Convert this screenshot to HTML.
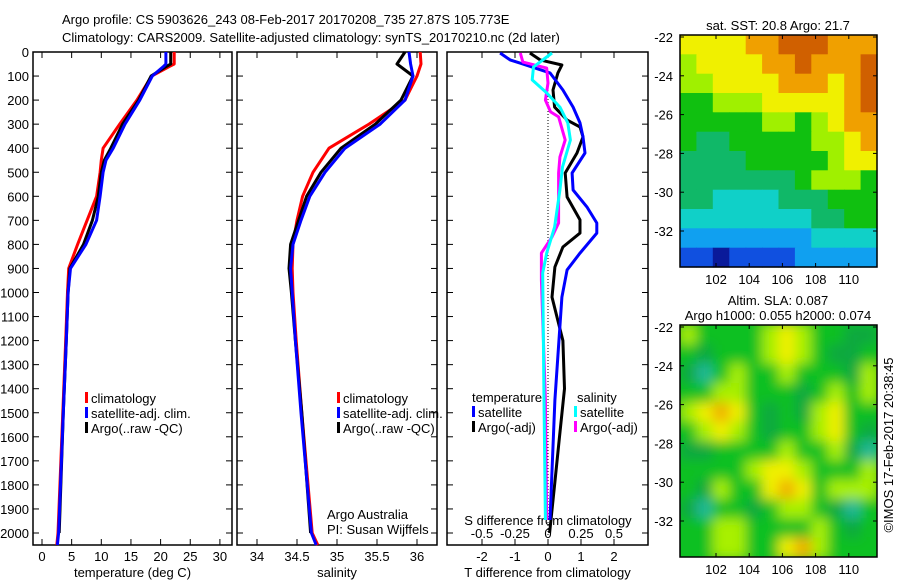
<!DOCTYPE html>
<html><head><meta charset="utf-8"><style>
body{margin:0;background:#fff}
svg text{font-family:"Liberation Sans",sans-serif;font-size:13px;fill:#000}
</style></head><body>
<svg id="chart" width="900" height="580" xmlns="http://www.w3.org/2000/svg">
<text x="62" y="24">Argo profile: CS 5903626_243 08-Feb-2017 20170208_735 27.87S 105.773E</text>
<text x="62" y="42">Climatology: CARS2009. Satellite-adjusted climatology: synTS_20170210.nc (2d later)</text>
<g id="g1"></g>
<g id="g2"></g>
<g id="g3"></g>
<g id="m1"></g>
<g id="m2"></g>
<text transform="translate(893,445) rotate(-90)" text-anchor="middle">©IMOS 17-Feb-2017 20:38:45</text>
<defs><filter id="bl" x="-5%" y="-5%" width="110%" height="110%"><feGaussianBlur stdDeviation="6"/></filter>
<clipPath id="c2"><rect x="680" y="325" width="197" height="232"/></clipPath></defs>
</svg>
<script>
// ---- data ----
const tDepths=[0,50,60,100,200,300,400,450,500,600,700,800,900,1000,1200,1500,2000,2050];
const climT=[22.3,22.3,21.5,18.5,16,13.1,10.3,10,9.8,9.2,7.6,6,4.5,4.3,4,3.5,2.7,2.5];
const satT=[20.9,20.9,20.5,18.6,16.5,14,12,10.8,10.3,9.8,9.2,7.4,4.8,4.4,4.1,3.6,2.8,2.6];
const argoT=[21.7,21.7,21,18.4,16.3,13.6,11.6,10.5,10,9.5,8.5,7,4.7,4.4,4.1,3.6,2.9];
const sDepths=[0,50,100,200,300,400,500,600,700,800,900,1000,1200,1500,2000,2050];
const climS=[36.04,36.05,36.0,35.85,35.4,34.9,34.7,34.57,34.5,34.45,34.44,34.45,34.49,34.56,34.69,34.76];
const satS=[35.9,35.92,35.95,35.85,35.54,35.1,34.85,34.66,34.55,34.45,34.42,34.44,34.48,34.55,34.68,34.74];
const argoS=[35.85,35.75,35.95,35.8,35.48,35.05,34.8,34.62,34.52,34.42,34.4,34.43,34.48,34.56,34.67];
const dTsatDepth=[4,33,46,87,158,229,295,353,420,503,574,644,711,753,836,906,1019,1447,1946];
const dTsat=[-1.45,-1.15,-0.85,0.06,0.45,0.76,0.97,1.06,1.12,0.73,0.76,1.18,1.48,1.48,0.97,0.58,0.42,0.21,0.06];
const dTargoDepth=[4,33,54,87,158,229,283,312,353,420,503,603,698,753,811,894,1019,1200,1400,1600,1800,2000];
const dTargo=[-0.55,-0.24,0.42,0.3,0.15,0.2,0.58,0.97,1.06,0.88,0.52,0.58,0.97,0.97,0.45,0.21,0.12,0.45,0.5,0.35,0.2,0.05];
const dSargoDepth=[4,42,67,129,200,249,270,366,437,503,711,769,836,948,1447,1946];
const dSargo=[-0.21,-0.19,-0.01,0,-0.02,0.02,0.08,0.13,0.09,0.08,0.08,0.03,-0.05,-0.05,-0.02,-0.01];
const dSsatDepth=[4,62,116,170,229,295,366,478,574,728,836,919,1447,1946];
const dSsat=[0.03,-0.11,-0.12,-0.01,0.09,0.15,0.17,0.11,0.09,0.05,-0.01,-0.04,-0.03,-0.02];
const depthTicks=[0,100,200,300,400,500,600,700,800,900,1000,1100,1200,1300,1400,1500,1600,1700,1800,1900,2000];
const tTicks=[0,5,10,15,20,25,30];
const sTicks=[34,34.5,35,35.5,36];
const dTTicks=[-2,-1,0,1,2];
const dSTicks=[-0.5,-0.25,0,0.25,0.5];
const sstGrid=[
[7,7,7,7,8,8,9,9,9,8,8,8],[6,7,7,7,7,8,8,9,8,8,8,9],[6,6,7,7,7,7,8,8,8,7,8,9],[5,5,6,6,6,7,7,7,7,7,8,9],
[5,5,5,5,5,6,6,5,6,7,8,8],[5,4,4,5,5,5,5,5,6,6,7,8],[4,4,4,4,5,5,5,5,5,6,7,7],[4,4,4,4,4,4,4,5,6,6,6,5],
[4,4,3,3,3,3,4,4,4,5,5,5],[3,3,3,3,3,3,3,3,4,4,5,5],[2,2,2,2,2,2,2,2,3,3,3,3],[1,1,0,1,1,1,1,2,2,2,2,2]];
const slaGrid=[
[3,2,2,2,2,3,4,3,2,2,1,1],[2,1,2,2,2,3,4,3,2,1,1,2],[1,0,2,3,2,2,3,2,2,2,1,3],[2,2,3,3,2,2,2,1,2,3,2,3],
[3,4,5,4,2,1,2,1,3,4,2,2],[2,3,4,3,2,1,2,2,3,4,2,1],[1,1,2,2,2,2,3,2,2,3,1,0],[2,2,2,2,3,4,4,3,2,2,2,3],
[2,1,3,2,2,4,5,4,2,3,3,3],[1,0,2,2,1,2,3,3,2,1,0,2],[2,2,3,3,2,2,2,2,3,2,1,2],[2,2,3,3,2,2,4,5,3,2,2,2]];
const lonTicks=[102,104,106,108,110];
const latTicks=[-22,-24,-26,-28,-30,-32];

const NS='http://www.w3.org/2000/svg';
function mk(p,tag,a,txt){const e=document.createElementNS(NS,tag);for(const k in a)e.setAttribute(k,a[k]);if(txt!==undefined)e.textContent=txt;p.appendChild(e);return e;}
const yD=d=>52+d*0.2405;
function panel(g,x0,x1,xs,xticks,fmt,label,ylabels){
  mk(g,'rect',{x:x0,y:52,width:x1-x0,height:493,fill:'none',stroke:'#000','stroke-width':1.5});
  depthTicks.forEach(d=>{const y=yD(d);
    mk(g,'line',{x1:x0,x2:x0+6,y1:y,y2:y,stroke:'#000'});mk(g,'line',{x1:x1-6,x2:x1,y1:y,y2:y,stroke:'#000'});
    if(ylabels){const t=mk(g,'text',{x:29,y:y+5,'text-anchor':'end'},d);}});
  xticks.forEach(v=>{const x=xs(v);
    mk(g,'line',{x1:x,x2:x,y1:52,y2:58,stroke:'#000'});mk(g,'line',{x1:x,x2:x,y1:539,y2:545,stroke:'#000'});
    const t=mk(g,'text',{x:x,y:561,'text-anchor':'middle'},fmt(v));});
  const l=mk(g,'text',{x:(x0+x1)/2,y:577,'text-anchor':'middle'},label);
}
function line(g,ds,vs,xs,col,name){
  const pts=vs.map((v,i)=>xs(v).toFixed(1)+','+yD(ds[i]).toFixed(1)).join(' ');
  const p=mk(g,'polyline',{points:pts,fill:'none',stroke:col,'stroke-width':3,'stroke-linejoin':'round'});
  
}
function legend(g,x,y,items){items.forEach((it,i)=>{
  if(it[1])mk(g,'rect',{x:x,y:y+i*15-11,width:3,height:11,fill:it[1]});
  const t=mk(g,'text',{x:x+(it[1]?6:0),y:y+i*15},it[0]);});}

const g1=document.getElementById('g1'),g2=document.getElementById('g2'),g3=document.getElementById('g3');
const xT=v=>42+v*5.93;
panel(g1,33,232,xT,tTicks,v=>v,'temperature (deg C)',true);
line(g1,tDepths,climT,xT,'#f00','clim-temperature-line');
line(g1,tDepths,argoT,xT,'#000','argo-temperature-line');
line(g1,tDepths,satT,xT,'#00f','sat-temperature-line');
legend(g1,85,403,[['climatology','#f00'],['satellite-adj. clim.','#00f'],['Argo(..raw -QC)','#000']]);

const xS=v=>257+(v-34)*80;
panel(g2,237,437,xS,sTicks,v=>v,'salinity',false);
line(g2,sDepths,climS,xS,'#f00','clim-salinity-line');
line(g2,sDepths,argoS,xS,'#000','argo-salinity-line');
line(g2,sDepths,satS,xS,'#00f','sat-salinity-line');
legend(g2,337,403,[['climatology','#f00'],['satellite-adj. clim.','#00f'],['Argo(..raw -QC)','#000']]);
legend(g2,327,519,[['Argo Australia',null],['PI: Susan Wijffels',null]]);

const xdT=v=>548+v*33, xdS=v=>548+v*132;
panel(g3,447,648,xdT,dTTicks,v=>v,'T difference from climatology',false);
mk(g3,'line',{x1:548,x2:548,y1:90,y2:545,stroke:'#000','stroke-dasharray':'1,2'});
dSTicks.forEach(v=>{const t=mk(g3,'text',{x:xdS(v),y:538,'text-anchor':'middle'},v);});
const st=mk(g3,'text',{x:548,y:525,'text-anchor':'middle'},'S difference from climatology');
line(g3,dTargoDepth,dTargo,xdT,'#000','argo-t-diff-line');
line(g3,dTsatDepth,dTsat,xdT,'#00f','sat-t-diff-line');
line(g3,dSargoDepth,dSargo,xdS,'#f0f','argo-s-diff-line');
line(g3,dSsatDepth,dSsat,xdS,'#0ff','sat-s-diff-line');
legend(g3,472,402,[['temperature',null]]);legend(g3,472,417,[['satellite','#00f'],['Argo(-adj)','#000']]);
legend(g3,577,402,[['salinity',null]]);legend(g3,574,417,[['satellite','#0ff'],['Argo(-adj)','#f0f']]);

const sstCols=['#0a1a9a','#1050e0','#10a0f0','#10d0c8','#10b868','#10c010','#a0f000','#f0f000','#f0a000','#d06000'];
const slaCols=['#20b898','#10a840','#10c020','#a8f000','#f0f000','#f0b000'];
function map(id,y0,grid,cols,title,blur){
  const g=document.getElementById(id);const x0=680,w=197,h=232,cw=w/12,ch=h/12;
  const cg=mk(g,'g',blur?{'clip-path':'url(#c2)'}:{});const inner=mk(cg,'g',blur?{filter:'url(#bl)'}:{});
  if(blur)mk(inner,'rect',{x:x0-20,y:y0-20,width:w+40,height:h+40,fill:cols[2]});
  grid.forEach((row,r)=>row.forEach((v,c)=>{
    const e=mk(inner,'rect',{x:(x0+c*cw).toFixed(1),y:(y0+r*ch).toFixed(1),width:(cw+0.6).toFixed(1),height:(ch+0.6).toFixed(1),fill:cols[v]});
    }));
  mk(g,'rect',{x:x0,y:y0,width:w,height:h,fill:'none',stroke:'#000','stroke-width':1.5});
  const lx=v=>716+(v-102)*16.6, ly=v=>y0+2+(-22-v)*19.4;
  lonTicks.forEach(v=>{mk(g,'line',{x1:lx(v),x2:lx(v),y1:y0,y2:y0+4,stroke:'#000'});mk(g,'line',{x1:lx(v),x2:lx(v),y1:y0+h-4,y2:y0+h,stroke:'#000'});
    const t=mk(g,'text',{x:lx(v),y:y0+h+17,'text-anchor':'middle'},v);});
  latTicks.forEach(v=>{mk(g,'line',{x1:x0,x2:x0+4,y1:ly(v),y2:ly(v),stroke:'#000'});mk(g,'line',{x1:x0+w-4,x2:x0+w,y1:ly(v),y2:ly(v),stroke:'#000'});
    const t=mk(g,'text',{x:673,y:ly(v)+5,'text-anchor':'end'},v);});
  title.forEach((s,i)=>{const t=mk(g,'text',{x:778,y:y0-(title.length-i)*15+10,'text-anchor':'middle','font-size':'12px'},s);});
}
map('m1',35,sstGrid,sstCols,['sat. SST: 20.8 Argo: 21.7'],false);
map('m2',325,slaGrid,slaCols,['Altim. SLA: 0.087','Argo h1000: 0.055 h2000: 0.074'],true);
</script>
</body></html>
